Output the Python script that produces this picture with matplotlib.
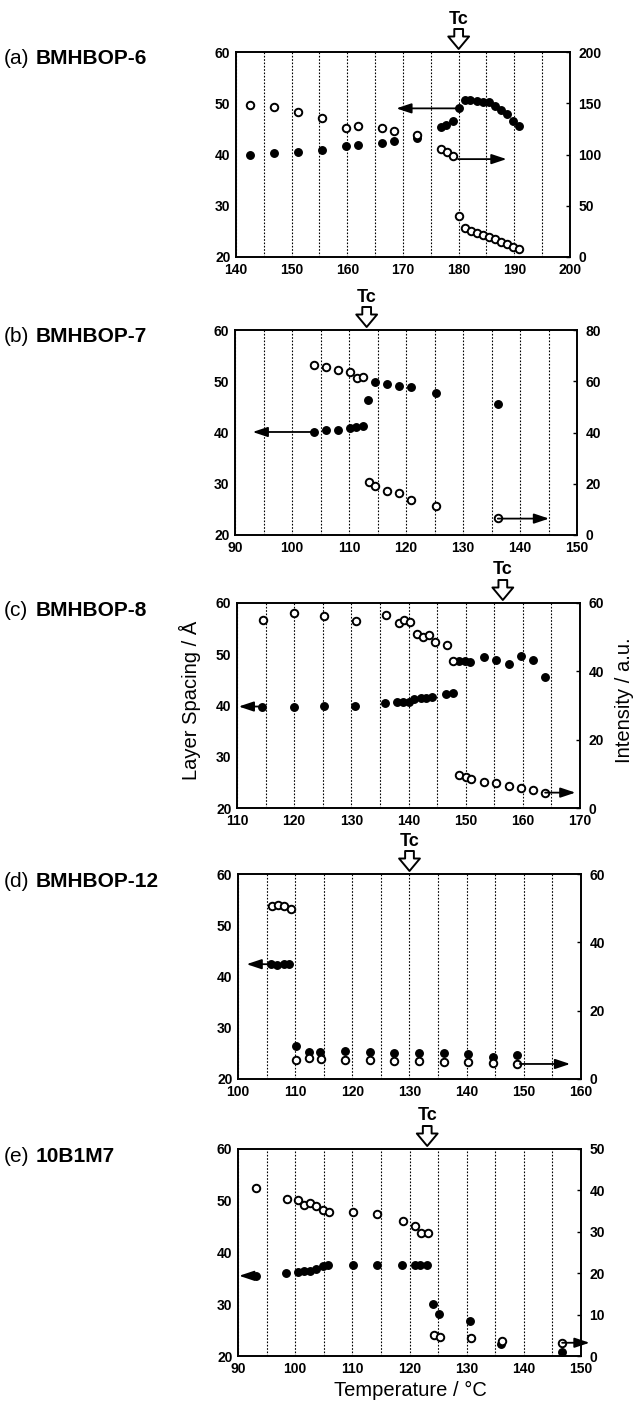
import numpy as np
import matplotlib
matplotlib.use("Agg")
import matplotlib.pyplot as plt
import matplotlib.transforms as mtransforms

plt.rcParams['font.family'] = ['Liberation Sans', 'DejaVu Sans']

# ---------------- data ----------------
labels_letter = ["(a)", "(b)", "(c)", "(d)", "(e)"]
labels_name = ["BMHBOP-6", "BMHBOP-7", "BMHBOP-8", "BMHBOP-12", "10B1M7"]
tc_values = [180.0, 113.1, 156.5, 130.0, 123.1]

a_fill_x = [142.5, 146.8, 151.1, 155.4, 159.8, 161.9, 166.2, 168.3, 172.6, 176.9, 177.8, 178.9, 180.0,
            181.1, 182.1, 183.3, 184.4, 185.4, 186.5, 187.6, 188.7, 189.8, 190.9]
a_fill_y = [40.0, 40.2, 40.5, 40.8, 41.6, 41.8, 42.3, 42.7, 43.3, 45.3, 45.7, 46.5, 49.0,
            50.7, 50.7, 50.4, 50.3, 50.3, 49.5, 48.6, 48.0, 46.5, 45.5]
a_open_x = [142.6, 146.9, 151.2, 155.5, 159.8, 162.0, 166.3, 168.3, 172.6, 176.9, 177.9, 178.9, 180.0,
            181.2, 182.2, 183.3, 184.4, 185.5, 186.5, 187.6, 188.7, 189.8, 190.9]
a_open_y = [148.6, 146.5, 141.0, 135.6, 125.6, 127.5, 125.6, 122.7, 119.0, 105.0, 102.6, 98.4, 40.0,
            28.6, 25.6, 23.0, 21.4, 19.9, 17.2, 15.1, 12.7, 10.1, 7.5]

b_fill_x = [103.8, 105.9, 108.1, 110.2, 111.3, 112.4, 113.4, 114.5, 116.6, 118.7, 120.9, 125.3, 136.1]
b_fill_y = [40.1, 40.4, 40.5, 40.8, 41.0, 41.2, 46.4, 49.8, 49.5, 49.0, 48.8, 47.8, 45.6]
b_open_x = [103.9, 106.0, 108.1, 110.2, 111.4, 112.4, 113.5, 114.6, 116.7, 118.7, 120.9, 125.3, 136.1]
b_open_y = [66.4, 65.4, 64.4, 63.5, 61.4, 61.6, 20.7, 19.3, 17.3, 16.2, 13.8, 11.4, 6.6]

c_fill_x = [114.4, 119.9, 125.2, 130.6, 135.9, 138.0, 139.0, 140.0, 141.0, 142.1, 143.1, 144.1, 146.6,
            147.8, 148.8, 149.8, 150.8, 153.2, 155.3, 157.5, 159.6, 161.7, 163.8]
c_fill_y = [39.8, 39.8, 40.0, 40.0, 40.4, 40.6, 40.6, 40.7, 41.2, 41.4, 41.5, 41.7, 42.2,
            42.5, 48.7, 48.6, 48.4, 49.4, 48.8, 48.1, 49.6, 48.8, 45.6]
c_open_x = [114.5, 120.0, 125.3, 130.8, 136.0, 138.3, 139.3, 140.3, 141.5, 142.5, 143.6, 144.7, 146.8,
            147.8, 148.9, 150.0, 151.0, 153.2, 155.3, 157.5, 159.6, 161.7, 163.8]
c_open_y = [55.1, 57.0, 56.3, 54.8, 56.4, 54.2, 54.9, 54.5, 51.0, 50.0, 50.7, 48.6, 47.6,
            42.9, 9.6, 9.1, 8.4, 7.6, 7.4, 6.4, 6.0, 5.3, 4.5]

d_fill_x = [105.8, 106.9, 108.0, 109.0, 110.1, 112.4, 114.4, 118.8, 123.1, 127.3, 131.6, 136.0, 140.2, 144.6, 148.8]
d_fill_y = [42.4, 42.3, 42.4, 42.4, 26.4, 25.2, 25.2, 25.4, 25.2, 25.1, 25.0, 25.0, 24.8, 24.3, 24.7]
d_open_x = [105.9, 107.0, 108.0, 109.2, 110.2, 112.4, 114.5, 118.8, 123.1, 127.3, 131.6, 136.0, 140.2, 144.6, 148.8]
d_open_y = [50.7, 51.0, 50.7, 49.8, 5.5, 6.1, 5.9, 5.5, 5.7, 5.4, 5.4, 4.9, 4.9, 4.7, 4.5]

e_fill_x = [93.1, 98.4, 100.5, 101.6, 102.6, 103.7, 104.8, 105.8, 110.2, 114.4, 118.7, 120.9, 121.9,
            123.0, 124.1, 125.1, 130.5, 136.0, 146.7]
e_fill_y = [35.5, 36.0, 36.2, 36.5, 36.5, 36.8, 37.3, 37.5, 37.6, 37.6, 37.6, 37.6, 37.5,
            37.5, 30.1, 28.1, 26.8, 22.3, 20.8]
e_open_x = [93.1, 98.5, 100.5, 101.6, 102.6, 103.7, 104.8, 105.9, 110.2, 114.4, 118.8, 120.9, 122.0,
            123.2, 124.3, 125.3, 130.7, 136.1, 146.7]
e_open_y = [40.6, 37.9, 37.7, 36.5, 36.9, 36.3, 35.3, 34.9, 34.8, 34.4, 32.5, 31.3, 29.7,
            29.7, 5.1, 4.7, 4.3, 3.6, 3.2]

x_limits = [(140, 200), (90, 150), (110, 170), (100, 160), (90, 150)]
left_ticks = [20, 30, 40, 50, 60]
right_ticks = [[0, 50, 100, 150, 200], [0, 20, 40, 60, 80], [0, 20, 40, 60], [0, 20, 40, 60],
               [0, 10, 20, 30, 40, 50]]

# arrows: (x_start, x_end, y) ; left arrow on layer-spacing axis, right arrow on intensity axis
left_arrows = [(180.0, 168.8, 49.0), (103.8, 93.1, 40.1), (114.4, 110.3, 39.8),
               (105.5, 101.5, 42.4), (93.1, 90.2, 35.5)]
right_arrows = [(179.9, 188.6, 95.5), (136.1, 145.1, 6.4), (163.9, 169.2, 4.5),
                (149.3, 158.1, 4.4), (146.7, 151.5, 3.2)]

fill_x = [a_fill_x, b_fill_x, c_fill_x, d_fill_x, e_fill_x]
fill_y = [a_fill_y, b_fill_y, c_fill_y, d_fill_y, e_fill_y]
open_x = [a_open_x, b_open_x, c_open_x, d_open_x, e_open_x]
open_y = [a_open_y, b_open_y, c_open_y, d_open_y, e_open_y]

# ---------------- layout (pixels) ----------------
W, H = 638, 1407
rects_px = [(236, 52, 570, 257), (235, 330, 577, 535), (237, 603, 580, 808),
            (238, 874, 581, 1079), (238, 1149, 581, 1356)]

fig = plt.figure(figsize=(W / 100, H / 100), dpi=100)

tick_fs = 10
for i in range(5):
    x0, y0, x1, y1 = rects_px[i]
    ax = fig.add_axes([x0 / W, 1 - y1 / H, (x1 - x0) / W, (y1 - y0) / H])
    ax2 = ax.twinx()
    xlo, xhi = x_limits[i]
    ax.set_xlim(xlo, xhi)
    ax.set_ylim(20, 60)
    ax2.set_ylim(right_ticks[i][0], right_ticks[i][-1])
    ax.set_xticks(np.arange(xlo, xhi + 1, 10))
    ax.set_xticks(np.arange(xlo + 5, xhi, 10), minor=True)
    ax.set_yticks(left_ticks)
    ax2.set_yticks(right_ticks[i])
    ax.grid(axis='x', which='both', linestyle=(0, (1.5, 1.5)), color='black', linewidth=0.8)
    ax.tick_params(axis='x', which='both', length=0, pad=4, labelsize=tick_fs)
    ax.tick_params(axis='y', length=0, pad=4, labelsize=tick_fs)
    ax2.tick_params(axis='y', direction='in', length=3, width=1, pad=6, labelsize=tick_fs)
    for lab in ax.get_xticklabels() + ax.get_yticklabels() + ax2.get_yticklabels():
        lab.set_fontweight('bold')
    for a in (ax, ax2):
        for s in a.spines.values():
            s.set_linewidth(1.2)

    ax.plot(fill_x[i], fill_y[i], 'o', ms=5.4, mfc='black', mec='black', mew=1.0, ls='none', zorder=3)
    ax2.plot(open_x[i], open_y[i], 'o', ms=5.4, mfc='white', mec='black', mew=1.4, ls='none', zorder=3)

    lx0, lx1, ly = left_arrows[i]
    ax.annotate('', xy=(lx1, ly), xytext=(lx0, ly), annotation_clip=False,
                arrowprops=dict(arrowstyle='-|>,head_length=0.9,head_width=0.3', color='black',
                                lw=1.3, mutation_scale=10, shrinkA=0, shrinkB=0))
    rx0, rx1, ry = right_arrows[i]
    ax2.annotate('', xy=(rx1, ry), xytext=(rx0, ry), annotation_clip=False,
                 arrowprops=dict(arrowstyle='-|>,head_length=0.9,head_width=0.3', color='black',
                                 lw=1.3, mutation_scale=10, shrinkA=0, shrinkB=0))

    # Tc marker
    hpx = y1 - y0
    tc = tc_values[i]
    ax.annotate('', xy=(tc, 1.0 + 3 / hpx), xycoords=('data', 'axes fraction'),
                xytext=(tc, 1.0 + 23 / hpx), textcoords=('data', 'axes fraction'),
                annotation_clip=False,
                arrowprops=dict(arrowstyle='simple,head_length=0.6,head_width=1.0,tail_width=0.42',
                                fc='white', ec='black', lw=1.4, mutation_scale=15,
                                shrinkA=0, shrinkB=0))
    trans = mtransforms.blended_transform_factory(ax.transData, ax.transAxes)
    ax.text(tc, 1.0 + 33 / hpx, 'Tc', transform=trans, ha='center', va='center',
            fontsize=13, fontweight='bold')

    # panel label
    fig.text(4 / W, 1 - (y0 + 7) / H, labels_letter[i], ha='left', va='center', fontsize=15)
    fig.text(36 / W, 1 - (y0 + 7) / H, labels_name[i], ha='left', va='center', fontsize=15,
             fontweight='bold')

fig.text(190 / W, 1 - 700 / H, 'Layer Spacing / Å', rotation=90, ha='center', va='center', fontsize=14.5)
fig.text(624 / W, 1 - 700 / H, 'Intensity / a.u.', rotation=90, ha='center', va='center', fontsize=14.5)
fig.text(410 / W, 1 - 1390 / H, 'Temperature / °C', ha='center', va='center', fontsize=14.5)

fig.savefig('out.png', dpi=100)
